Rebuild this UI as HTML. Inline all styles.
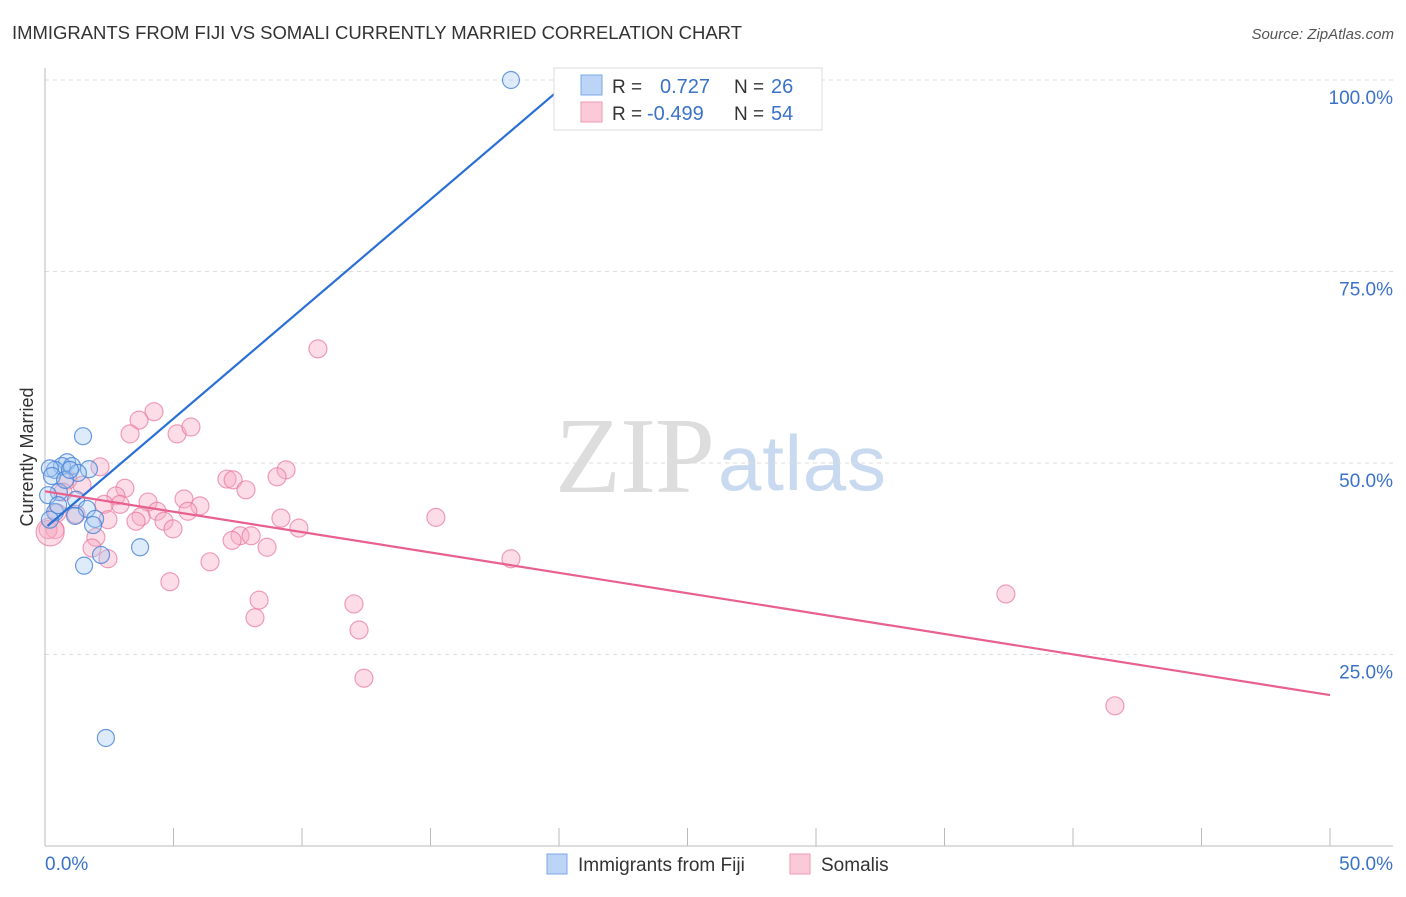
<!DOCTYPE html>
<html><head><meta charset="utf-8"><style>
body{margin:0;background:#fff;font-family:"Liberation Sans",sans-serif}
</style></head><body>
<svg width="1406" height="892" font-family="Liberation Sans, sans-serif">
<text x="12" y="39" font-size="18.5" fill="#333" textLength="730">IMMIGRANTS FROM FIJI VS SOMALI CURRENTLY MARRIED CORRELATION CHART</text>
<text x="1394" y="39" font-size="15" fill="#555" font-style="italic" text-anchor="end">Source: ZipAtlas.com</text>
<text x="555" y="492" font-size="108" fill="#ddd" textLength="160" font-family="Liberation Serif, serif">ZIP</text>
<text x="718" y="490" font-size="78" fill="#c9daf0" textLength="168">atlas</text>
<g id="grid"></g>
<g id="marks"></g>
<text transform="translate(33,457) rotate(-90)" font-size="18" fill="#333" text-anchor="middle">Currently Married</text>
<g>
<rect x="554" y="68" width="268" height="62" fill="#fff" stroke="#ddd"/>
<rect x="581" y="75" width="21" height="20" fill="#bcd4f5" stroke="#7aa7e6"/>
<rect x="581" y="102" width="21" height="20" fill="#fbc9d7" stroke="#ee9ab2"/>
<text x="612" y="93" font-size="19" fill="#333">R =</text><text x="660" y="93" font-size="20" fill="#3b72c9">0.727</text>
<text x="734" y="93" font-size="19" fill="#333">N =</text><text x="771" y="93" font-size="20" fill="#3b72c9">26</text>
<text x="612" y="120" font-size="19" fill="#333">R =</text><text x="647" y="120" font-size="20" fill="#3b72c9">-0.499</text>
<text x="734" y="120" font-size="19" fill="#333">N =</text><text x="771" y="120" font-size="20" fill="#3b72c9">54</text>
</g>
<g>
<rect x="547" y="854" width="20" height="20" fill="#bcd4f5" stroke="#7aa7e6"/>
<text x="578" y="871" font-size="19" fill="#333">Immigrants from Fiji</text>
<rect x="790" y="854" width="20" height="20" fill="#fbc9d7" stroke="#ee9ab2"/>
<text x="821" y="871" font-size="19" fill="#333">Somalis</text>
</g>
</svg>
<script>
const blueX=[18.13,1.48,0.86,0.66,1.05,0.39,0.19,1.71,0.27,1.28,0.54,1.21,1.63,0.39,1.17,1.95,1.87,3.70,2.18,1.52,2.37,0.19,0.78,0.12,0.97,0.51];
const blueY=[100.0,53.5,50.1,49.6,49.6,49.1,49.3,49.2,48.3,48.7,46.2,45.2,44.0,43.6,43.1,42.7,41.9,39.0,38.0,36.6,14.1,42.6,47.8,45.8,49.1,44.5];
const pinkX=[10.62,4.24,3.66,3.31,5.14,5.68,2.14,9.38,9.03,7.08,7.32,7.82,3.11,2.76,5.41,4.01,2.92,2.30,6.03,4.36,5.56,3.74,3.54,4.63,9.18,15.21,4.98,9.88,7.59,7.28,8.02,8.64,1.98,1.83,2.45,6.42,18.13,4.86,8.33,12.02,8.17,12.22,12.41,37.39,41.63,0.39,0.12,0.47,0.89,1.44,1.21,0.70,2.45,0.2];
const pinkY=[64.9,56.7,55.6,53.8,53.8,54.7,49.5,49.1,48.2,47.9,47.8,46.5,46.7,45.7,45.3,44.9,44.6,44.6,44.4,43.7,43.7,43.0,42.4,42.4,42.8,42.9,41.4,41.5,40.5,39.9,40.5,39.0,40.3,38.9,37.5,37.1,37.5,34.5,32.1,31.6,29.8,28.2,21.9,32.9,18.3,41.3,41.3,43.5,47.8,47.1,43.3,46.2,42.6,41.0];
const blueTrend=[41.5,2.86]; // intercept, slope
const pinkTrend=[46.3,-0.532];
const yTicks=[25,50,75,100];
const xTickVals=[0,5,10,15,20,25,30,35,40,45,50];
const sx=v=>45+v*25.7, sy=v=>846-v*7.66;
const NS='http://www.w3.org/2000/svg';
function mk(t,a,p){const e=document.createElementNS(NS,t);for(const k in a)e.setAttribute(k,a[k]);p.appendChild(e);return e;}
const grid=document.getElementById('grid'), marks=document.getElementById('marks');
yTicks.forEach(v=>{
 const l=mk('line',{x1:45,x2:1393,y1:sy(v),y2:sy(v),stroke:'#ddd','stroke-dasharray':'4,4'},grid);
 
 
 const t=mk('text',{x:1393,y:sy(v)+24,'font-size':19,fill:'#3b72c9','text-anchor':'end'},grid);t.textContent=v.toFixed(1)+'%';
 
 
});
const ax=mk('line',{x1:45,x2:45,y1:68,y2:846,stroke:'#bbb'},grid);


const bx=mk('line',{x1:45,x2:1393,y1:846,y2:846,stroke:'#bbb'},grid);


xTickVals.forEach(v=>{const l=mk('line',{x1:sx(v),x2:sx(v),y1:828,y2:846,stroke:'#bbb'},grid);
 
 });
[[0,'0.0%','start',45],[50,'50.0%','end',1393]].forEach(d=>{const t=mk('text',{x:d[3],y:870,'font-size':19,fill:'#3b72c9','text-anchor':d[2]},grid);t.textContent=d[1];
 
 });
pinkX.forEach((x,i)=>{const c=mk('circle',{cx:sx(x),cy:sy(pinkY[i]),r:i==pinkX.length-1?14:9,fill:'rgba(248,170,195,0.4)',stroke:'rgba(232,120,155,0.7)','stroke-width':1.2},marks);
 
 });
blueX.forEach((x,i)=>{const c=mk('circle',{cx:sx(x),cy:sy(blueY[i]),r:8.5,fill:'rgba(160,198,242,0.35)',stroke:'rgba(70,130,215,0.8)','stroke-width':1.2},marks);
 
 });
const bl=mk('line',{x1:sx(0.1),y1:sy(blueTrend[0]+blueTrend[1]*0.1),x2:sx(20),y2:sy(blueTrend[0]+blueTrend[1]*20),stroke:'#2a6fd6','stroke-width':2.2},marks);


const pl=mk('line',{x1:sx(0),y1:sy(pinkTrend[0]),x2:sx(50),y2:sy(pinkTrend[0]+pinkTrend[1]*50),stroke:'#e8608e','stroke-width':2.2},marks);


</script>
</body></html>
